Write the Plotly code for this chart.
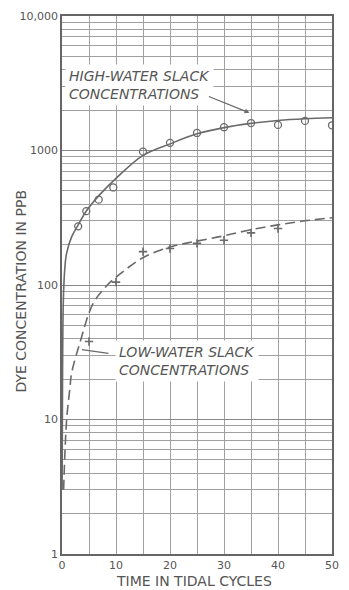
import plotly.graph_objects as go

# --- data ---
hw_t = [3, 4.5, 6.8, 9.5, 15, 20, 25, 30, 35, 40, 45, 50]
hw_v = [273, 354, 431, 531, 980, 1140, 1350, 1490, 1600, 1550, 1660, 1540]

hw_curve_t = [0.02, 0.1, 0.24, 0.5, 0.85, 1.8, 3, 4.5, 7, 10, 15, 20, 25, 30, 35, 40, 45, 50]
hw_curve_v = [3, 20, 74, 130, 172, 229, 280, 355, 470, 620, 920, 1120, 1330, 1480, 1590, 1670, 1720, 1750]

lw_t = [5, 10, 15, 20, 25, 30, 35, 40]
lw_v = [38, 105, 177, 187, 204, 215, 244, 263]

lw_curve_t = [0.3, 0.86, 1.46, 1.77, 3.3, 5.7, 8.2, 10.9, 14.8, 20, 25, 30, 35, 40, 45, 50]
lw_curve_v = [3, 10, 17, 22, 37, 72, 98, 122, 158, 192, 212, 232, 258, 280, 300, 316]

y_tickvals = [1, 10, 100, 1000, 10000]
y_ticktext = ["1", "10", "100", "1000", "10,000"]
x_tickvals = [0, 10, 20, 30, 40, 50]

LINE = "#6a6a6a"
TEXT = "#555555"
GRID = "#a0a0a0"
FONT = "DejaVu Sans"

fig = go.Figure()
fig.add_trace(go.Scatter(x=hw_curve_t, y=hw_curve_v, mode="lines",
                         line=dict(color=LINE, width=1.6, shape="spline"),
                         hoverinfo="skip", showlegend=False))
fig.add_trace(go.Scatter(x=lw_curve_t, y=lw_curve_v, mode="lines",
                         line=dict(color=LINE, width=1.6, dash="10px,5px", shape="spline"),
                         hoverinfo="skip", showlegend=False))
fig.add_trace(go.Scatter(x=hw_t, y=hw_v, mode="markers",
                         marker=dict(symbol="circle-open", size=7, color=LINE,
                                     line=dict(width=1.3, color=LINE)),
                         showlegend=False))
fig.add_trace(go.Scatter(x=lw_t, y=lw_v, mode="markers",
                         marker=dict(symbol="cross-thin-open", size=6, color=LINE,
                                     line=dict(width=1.6, color=LINE)),
                         showlegend=False))

fig.update_xaxes(range=[0, 50], tickvals=x_tickvals, ticks="",
                 showgrid=True, gridcolor=GRID, gridwidth=1,
                 minor=dict(dtick=5, showgrid=True, gridcolor=GRID, gridwidth=1),
                 showline=True, linecolor="#666666", linewidth=1.5, mirror=True,
                 zeroline=False,
                 tickfont=dict(family=FONT, size=11, color=TEXT))
fig.update_yaxes(type="log", range=[0, 4], tickvals=y_tickvals, ticktext=y_ticktext,
                 ticks="", showgrid=True, gridcolor="#888888", gridwidth=1.3,
                 minor=dict(dtick="D1", showgrid=True, gridcolor=GRID, gridwidth=1),
                 showline=True, linecolor="#666666", linewidth=1.5, mirror=True,
                 zeroline=False,
                 tickfont=dict(family=FONT, size=11, color=TEXT))

ann_font = dict(family=FONT, size=14, color=TEXT, style="italic")
fig.add_annotation(x=0.6, y=3.485, xref="x", yref="y", xanchor="left", yanchor="middle",
                   text="HIGH-WATER SLACK<br>CONCENTRATIONS", showarrow=False,
                   align="left", bgcolor="white", borderpad=3, font=ann_font)
fig.add_annotation(x=9.8, y=1.435, xref="x", yref="y", xanchor="left", yanchor="middle",
                   text="LOW-WATER SLACK<br>CONCENTRATIONS", showarrow=False,
                   align="left", bgcolor="white", borderpad=3, font=ann_font)
# leader lines
fig.add_annotation(x=34.7, y=3.28, xref="x", yref="y", text="", showarrow=True,
                   ax=-42, ay=-17, arrowhead=2, arrowsize=0.8, arrowwidth=1.2,
                   arrowcolor=LINE)
fig.add_annotation(x=3.7, y=1.52, xref="x", yref="y", text="", showarrow=True,
                   ax=28, ay=4, arrowhead=0, arrowwidth=1.2, arrowcolor=LINE)

# axis titles
title_font = dict(family=FONT, size=14, color=TEXT)
fig.add_annotation(x=-0.153, y=0.489, xref="paper", yref="paper",
                   text="DYE CONCENTRATION IN PPB", textangle=-90, showarrow=False,
                   font=title_font, xanchor="center", yanchor="middle")
fig.add_annotation(x=0.49, y=-0.05, xref="paper", yref="paper",
                   text="TIME IN TIDAL CYCLES", showarrow=False,
                   font=title_font, xanchor="center", yanchor="middle")

fig.update_layout(width=349, height=590, autosize=False,
                  margin=dict(l=62, r=13, t=10, b=36),
                  paper_bgcolor="white", plot_bgcolor="white",
                  showlegend=False)

fig.write_html("out.html")
